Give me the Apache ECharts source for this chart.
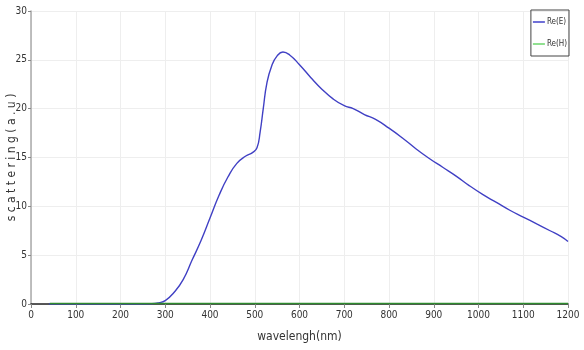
<!DOCTYPE html>
<html>
<head>
<meta charset="utf-8">
<script src="https://cdn.jsdelivr.net/npm/echarts@6/dist/echarts.min.js"></script>
<style>
  html, body { margin: 0; padding: 0; background: #fff; }
  #chart { width: 584px; height: 350px; }
</style>
</head>
<body>
<div id="chart"></div>
<script>
// Scattering spectra: wavelength (nm) against intensity (a.u.)
const wavelengthE = [40, 200, 270, 285, 300, 320, 340, 360, 380, 400, 420, 440, 460, 480, 495, 505, 512, 519, 527, 538, 550, 563, 578, 600, 625, 650, 675, 700, 720, 745, 770, 800, 830, 860, 890, 920, 950, 980, 1010, 1040, 1070, 1100, 1130, 1160, 1185, 1200];
const scatterE = [0, 0, 0.03, 0.12, 0.35, 1.2, 2.5, 4.5, 6.5, 8.8, 11.1, 13.0, 14.4, 15.15, 15.5, 16.0, 17.6, 20.0, 22.6, 24.4, 25.4, 25.8, 25.5, 24.5, 23.2, 22.0, 21.0, 20.3, 20.0, 19.4, 18.9, 18.0, 17.0, 15.9, 14.9, 14.0, 13.1, 12.1, 11.2, 10.4, 9.6, 8.9, 8.2, 7.5, 6.9, 6.4];
const wavelengthH = [42, 300, 600, 900, 1200];
const scatterH = [0.05, 0.05, 0.05, 0.05, 0.05];
const xTicks = [0, 100, 200, 300, 400, 500, 600, 700, 800, 900, 1000, 1100, 1200];
const yTicks = [0, 5, 10, 15, 20, 25, 30];
const seriesNames = ['Re(E)', 'Re(H)'];

const pairs = (xs, ys) => xs.map((x, i) => [x, ys[i]]);
const narrow = 'Liberation Sans Narrow, DejaVu Sans Condensed, sans-serif';
const labelFont = { color: '#333', fontSize: 10, fontFamily: narrow, formatter: v => String(v) };

const chart = echarts.init(document.getElementById('chart'));
chart.setOption({
  animation: false,
  backgroundColor: '#fff',
  grid: { left: 31, right: 16, top: 11, bottom: 46, outerBoundsMode: 'none', containLabel: false },
  legend: {
    orient: 'vertical',
    right: 15, top: 10,
    data: seriesNames,
    icon: 'rect',
    itemWidth: 12, itemHeight: 2,
    itemGap: 14,
    padding: [8, 2, 8, 2],
    borderColor: '#444', borderWidth: 1,
    textStyle: { fontSize: 8, color: '#333', fontFamily: narrow, padding: [0, 0, 0, -3] }
  },
  xAxis: {
    type: 'value',
    min: xTicks[0], max: xTicks[xTicks.length - 1], interval: 100,
    name: 'wavelengh(nm)',
    nameLocation: 'middle', nameGap: 27, nameMoveOverlap: false,
    nameTextStyle: { color: '#333', fontSize: 12, fontFamily: narrow },
    axisLine: { lineStyle: { color: '#222', width: 1.5 } },
    axisTick: { show: true, length: 4, lineStyle: { color: '#888' } },
    axisLabel: Object.assign({ margin: 6 }, labelFont),
    splitLine: { show: true, lineStyle: { color: '#eeeeee' } }
  },
  yAxis: {
    type: 'value',
    min: yTicks[0], max: yTicks[yTicks.length - 1], interval: 5,
    name: 's c a t t e r i n g ( a . u )',
    nameLocation: 'middle', nameGap: 13, nameRotate: 90, nameMoveOverlap: false,
    nameTextStyle: { color: '#333', fontSize: 12, fontFamily: narrow },
    axisLine: { show: true, lineStyle: { color: '#aaa', width: 1.5 } },
    axisTick: { show: true, length: 3, lineStyle: { color: '#888' } },
    axisLabel: Object.assign({ margin: 4 }, labelFont),
    splitLine: { show: true, lineStyle: { color: '#eeeeee' } }
  },
  series: [
    {
      name: seriesNames[0], type: 'line', smooth: 0.5, showSymbol: false,
      data: pairs(wavelengthE, scatterE),
      lineStyle: { color: '#4040c4', width: 1.4 },
      itemStyle: { color: '#7070d8' }, z: 2
    },
    {
      name: seriesNames[1], type: 'line', showSymbol: false,
      data: pairs(wavelengthH, scatterH),
      lineStyle: { color: '#2e8b2e', width: 1.5 },
      itemStyle: { color: '#90e090' }, z: 3
    }
  ]
});
</script>
</body>
</html>
